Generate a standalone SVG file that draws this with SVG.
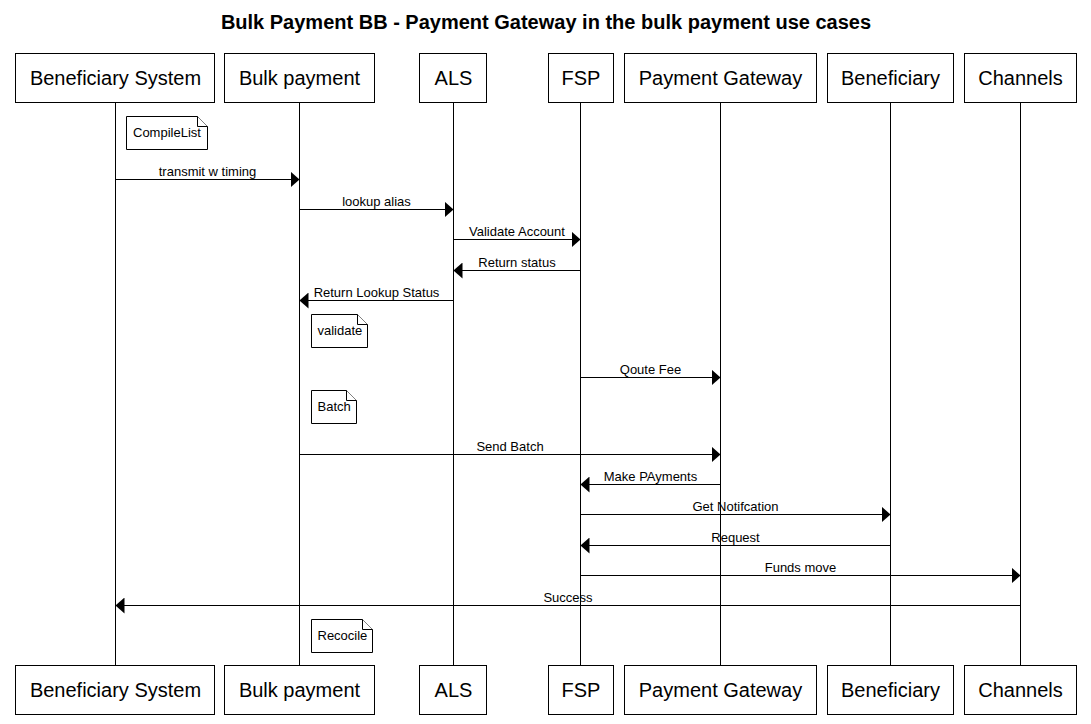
<svg xmlns="http://www.w3.org/2000/svg" width="1091" height="724" viewBox="0 0 1091 724">
<style>
.bg{fill:#fff}
.box{fill:#fff;stroke:#000;stroke-width:1}
.pt{font-family:"Liberation Sans",Arial,sans-serif;font-size:20px;fill:#000;text-anchor:middle}
.title{font-family:"Liberation Sans",Arial,sans-serif;font-size:20px;font-weight:bold;fill:#000;text-anchor:middle}
.life{stroke:#000;stroke-width:1;fill:none}
.msg{stroke:#000;stroke-width:1;fill:none;marker-end:url(#ah)}
.ml{font-family:"Liberation Sans",Arial,sans-serif;font-size:13px;fill:#000;text-anchor:middle}
.note{fill:#fff;stroke:#000;stroke-width:1}
.nt{font-family:"Liberation Sans",Arial,sans-serif;font-size:13px;fill:#000}
</style>
<defs>
<marker id="ah" viewBox="0 0 9 16" refX="9" refY="8" markerWidth="9" markerHeight="16" markerUnits="userSpaceOnUse" orient="auto">
<path d="M0,0 L9,8 L0,16 Z" fill="#000"/>
</marker>
</defs>
<rect class="bg" x="0" y="0" width="1091" height="724"/>
<text class="title" x="546" y="29">Bulk Payment BB - Payment Gateway in the bulk payment use cases</text>

<g id="lifelines">
<line class="life" x1="115.5" y1="102.5" x2="115.5" y2="665.5"/>
<line class="life" x1="299.5" y1="102.5" x2="299.5" y2="665.5"/>
<line class="life" x1="453.5" y1="102.5" x2="453.5" y2="665.5"/>
<line class="life" x1="580.5" y1="102.5" x2="580.5" y2="665.5"/>
<line class="life" x1="720.5" y1="102.5" x2="720.5" y2="665.5"/>
<line class="life" x1="890.5" y1="102.5" x2="890.5" y2="665.5"/>
<line class="life" x1="1020.5" y1="102.5" x2="1020.5" y2="665.5"/>
</g>

<g id="p-beneficiary-system">
<rect class="box" x="15.5" y="53.5" width="199" height="49"/>
<text class="pt" x="115.5" y="85">Beneficiary System</text>
<rect class="box" x="15.5" y="665.5" width="199" height="49"/>
<text class="pt" x="115.5" y="697">Beneficiary System</text>
</g>
<g id="p-bulk-payment">
<rect class="box" x="224.5" y="53.5" width="150" height="49"/>
<text class="pt" x="299.5" y="85">Bulk payment</text>
<rect class="box" x="224.5" y="665.5" width="150" height="49"/>
<text class="pt" x="299.5" y="697">Bulk payment</text>
</g>
<g id="p-als">
<rect class="box" x="419.5" y="53.5" width="67" height="49"/>
<text class="pt" x="453.5" y="85">ALS</text>
<rect class="box" x="419.5" y="665.5" width="67" height="49"/>
<text class="pt" x="453.5" y="697">ALS</text>
</g>
<g id="p-fsp">
<rect class="box" x="548.5" y="53.5" width="65" height="49"/>
<text class="pt" x="581" y="85">FSP</text>
<rect class="box" x="548.5" y="665.5" width="65" height="49"/>
<text class="pt" x="581" y="697">FSP</text>
</g>
<g id="p-payment-gateway">
<rect class="box" x="624.5" y="53.5" width="192" height="49"/>
<text class="pt" x="720.5" y="85">Payment Gateway</text>
<rect class="box" x="624.5" y="665.5" width="192" height="49"/>
<text class="pt" x="720.5" y="697">Payment Gateway</text>
</g>
<g id="p-beneficiary">
<rect class="box" x="827.5" y="53.5" width="126" height="49"/>
<text class="pt" x="890.5" y="85">Beneficiary</text>
<rect class="box" x="827.5" y="665.5" width="126" height="49"/>
<text class="pt" x="890.5" y="697">Beneficiary</text>
</g>
<g id="p-channels">
<rect class="box" x="964.5" y="53.5" width="112" height="49"/>
<text class="pt" x="1020.5" y="85">Channels</text>
<rect class="box" x="964.5" y="665.5" width="112" height="49"/>
<text class="pt" x="1020.5" y="697">Channels</text>
</g>

<g id="n-compilelist">
<path class="note" d="M126.5,116.5 H197.5 L207.5,126.5 V149.5 H126.5 Z"/>
<path class="note" d="M197.5,116.5 V126.5 H207.5"/>
<text class="nt" x="133" y="137">CompileList</text>
</g>
<g id="n-validate">
<path class="note" d="M311.5,314.5 H357.5 L367.5,324.5 V347.5 H311.5 Z"/>
<path class="note" d="M357.5,314.5 V324.5 H367.5"/>
<text class="nt" x="317.5" y="335">validate</text>
</g>
<g id="n-batch">
<path class="note" d="M311.5,390.5 H346.5 L356.5,400.5 V423.5 H311.5 Z"/>
<path class="note" d="M346.5,390.5 V400.5 H356.5"/>
<text class="nt" x="317.5" y="411">Batch</text>
</g>
<g id="n-recocile">
<path class="note" d="M311.5,619.5 H362.5 L372.5,629.5 V652.5 H311.5 Z"/>
<path class="note" d="M362.5,619.5 V629.5 H372.5"/>
<text class="nt" x="317.5" y="640">Recocile</text>
</g>

<g id="connectors">
<line class="msg" x1="115.5" y1="179.5" x2="299.5" y2="179.5"/>
<text class="ml" x="207.5" y="176">transmit w timing</text>
<line class="msg" x1="299.5" y1="209.5" x2="453.5" y2="209.5"/>
<text class="ml" x="376.5" y="206">lookup alias</text>
<line class="msg" x1="453.5" y1="239.5" x2="580.5" y2="239.5"/>
<text class="ml" x="517" y="236">Validate Account</text>
<line class="msg" x1="580.5" y1="270.5" x2="453.5" y2="270.5"/>
<text class="ml" x="517" y="267">Return status</text>
<line class="msg" x1="453.5" y1="300.5" x2="299.5" y2="300.5"/>
<text class="ml" x="376.5" y="297">Return Lookup Status</text>
<line class="msg" x1="580.5" y1="377.5" x2="720.5" y2="377.5"/>
<text class="ml" x="650.5" y="374">Qoute Fee</text>
<line class="msg" x1="299.5" y1="454.5" x2="720.5" y2="454.5"/>
<text class="ml" x="510" y="451">Send Batch</text>
<line class="msg" x1="720.5" y1="484.5" x2="580.5" y2="484.5"/>
<text class="ml" x="650.5" y="481">Make PAyments</text>
<line class="msg" x1="580.5" y1="514.5" x2="890.5" y2="514.5"/>
<text class="ml" x="735.5" y="511">Get Notifcation</text>
<line class="msg" x1="890.5" y1="545.5" x2="580.5" y2="545.5"/>
<text class="ml" x="735.5" y="542">Request</text>
<line class="msg" x1="580.5" y1="575.5" x2="1020.5" y2="575.5"/>
<text class="ml" x="800.5" y="572">Funds move</text>
<line class="msg" x1="1020.5" y1="605.5" x2="115.5" y2="605.5"/>
<text class="ml" x="568" y="602">Success</text>
</g>
</svg>
